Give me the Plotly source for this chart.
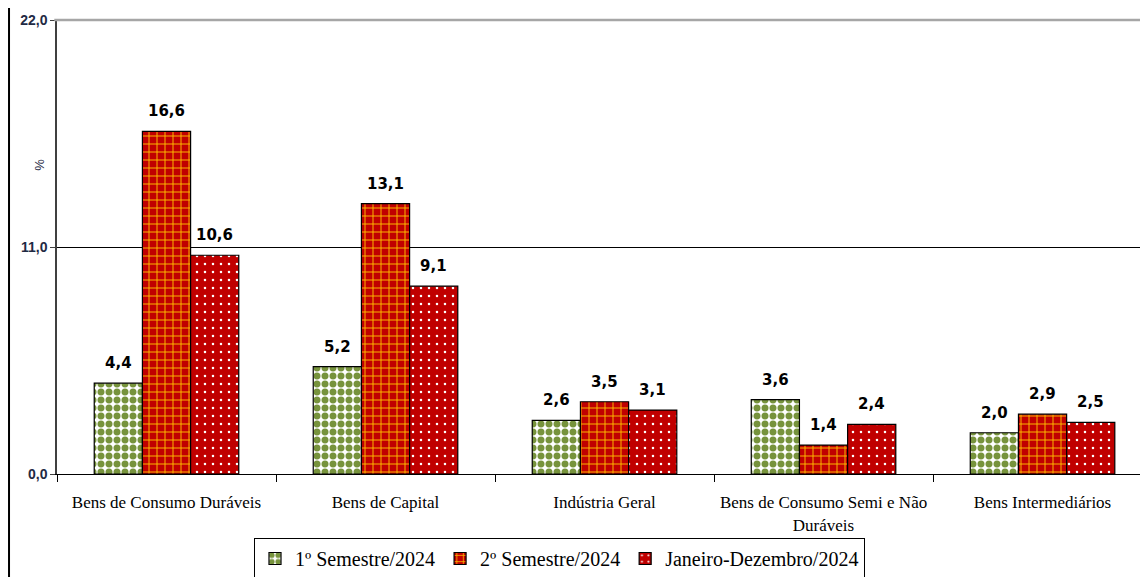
import plotly.graph_objects as go

categories = ["Bens de Consumo Duráveis", "Bens de Capital", "Indústria Geral",
              "Bens de Consumo Semi e Não<br>Duráveis", "Bens Intermediários"]
series_names = ["1º Semestre/2024", "2º Semestre/2024", "Janeiro-Dezembro/2024"]
sem1 = [4.4, 5.2, 2.6, 3.6, 2.0]
sem2 = [16.6, 13.1, 3.5, 1.4, 2.9]
ano = [10.6, 9.1, 3.1, 2.4, 2.5]
y_ticks = [0, 11, 22]

GREEN = "#77933C"
RED = "#C00000"
ORANGE = "#FFC000"

serif = "Liberation Serif"
BARGAP = 0.34

def fmt(v):
    return f"{v:.1f}".replace(".", ",")

patterns = [
    dict(shape=".", fgcolor=GREEN, bgcolor="white", size=8, solidity=0.6, fillmode="replace"),
    dict(shape="+", fgcolor=ORANGE, bgcolor=RED, size=8, solidity=0.22, fillmode="replace"),
    dict(shape=".", fgcolor="white", bgcolor=RED, size=8, solidity=0.08, fillmode="replace"),
]
base_colors = ["white", RED, RED]
series = [sem1, sem2, ano]

fig = go.Figure()
for name, vals, pat, col in zip(series_names, series, patterns, base_colors):
    fig.add_trace(go.Bar(
        x=categories, y=vals, name=name,
        marker=dict(color=col, pattern=pat, line=dict(color="black", width=1.2)),
    ))

# value labels placed over each bar of the group (category index + group offset)
bar_w = (1 - BARGAP) / len(series)
annotations = []
for k, vals in enumerate(series):
    for i, v in enumerate(vals):
        annotations.append(dict(
            x=i + (k - (len(series) - 1) / 2) * bar_w, y=v, xref="x", yref="y",
            text=fmt(v), showarrow=False, yanchor="bottom", yshift=9,
            font=dict(family="DejaVu Sans", size=15, color="black", weight="bold"),
        ))
annotations.append(dict(
    text="%", xref="paper", yref="paper", x=-0.0249, y=0.698,
    showarrow=False, textangle=-90,
    font=dict(family="Liberation Sans", size=13, color="#1F2A44"),
))

fig.update_layout(
    width=1132, height=569,
    margin=dict(l=49, r=0, t=12, b=103, autoexpand=False),
    paper_bgcolor="white", plot_bgcolor="white",
    barmode="group", bargap=BARGAP, bargroupgap=0,
    separators=",.",
    showlegend=True,
    legend=dict(
        orientation="h", x=0.1819, xanchor="left", y=-0.141, yanchor="top",
        bordercolor="black", borderwidth=1,
        font=dict(family=serif, size=20, color="black"),
        itemwidth=30, traceorder="normal",
    ),
    xaxis=dict(
        range=[-0.5, 4.445], automargin=False,
        showline=True, linecolor="black", linewidth=1,
        ticks="outside", tickson="boundaries", ticklen=7, tickcolor="black",
        tickfont=dict(family=serif, size=17, color="black"),
        ticklabelstandoff=13,
        showgrid=False,
    ),
    yaxis=dict(
        range=[0, 22], tickvals=y_ticks, tickformat=".1f", automargin=False,
        showline=True, linecolor="#404040", linewidth=1.5,
        ticks="outside", ticklen=5, tickcolor="#404040",
        tickfont=dict(family="Liberation Sans", size=14, color="#1F2A44", weight="bold"),
        showgrid=True, gridcolor="black", gridwidth=1.2,
        zeroline=True, zerolinecolor="black", zerolinewidth=1.2,
    ),
    annotations=annotations,
    shapes=[
        dict(type="line", xref="paper", yref="paper", x0=-0.0025, x1=1, y0=1, y1=1,
             line=dict(color="#A6A6A6", width=2.5)),
        dict(type="line", xref="paper", yref="paper", x0=-0.0443, x1=-0.0443, y0=-0.3, y1=1.1,
             line=dict(color="black", width=2)),
    ],
)

fig.write_html("out.html")
